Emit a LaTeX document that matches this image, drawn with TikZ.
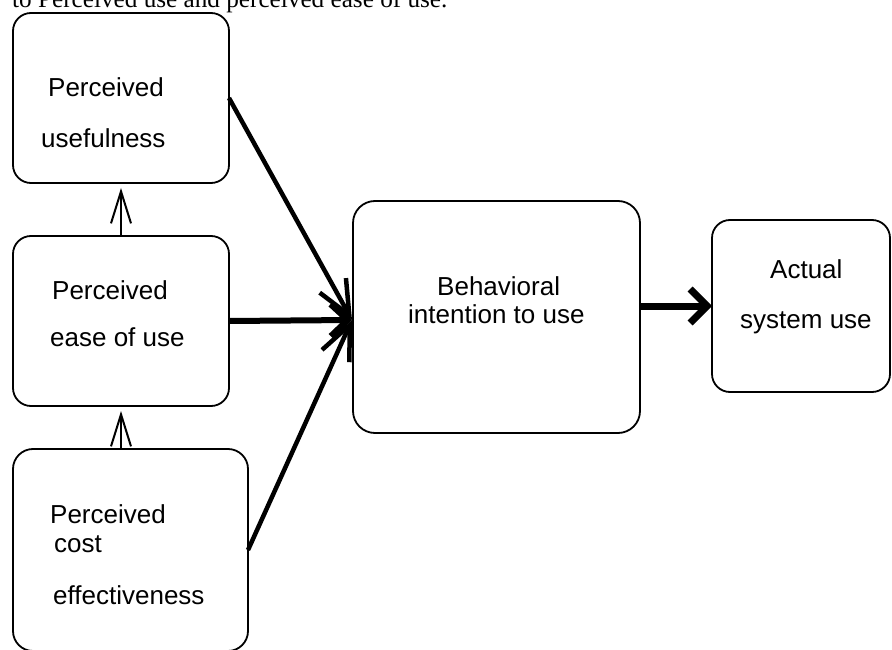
\documentclass[tikz,border=0pt]{standalone}
\usepackage{fontspec}
\setmainfont{Liberation Sans}
\newfontfamily\capfont{Liberation Serif}
\usetikzlibrary{arrows.meta,calc}
\begin{document}
\begin{tikzpicture}[x=1pt,y=-1pt,
  box/.style={draw, line width=1.8pt, rounded corners=18pt, inner sep=0pt, outer sep=0pt},
  lbl/.style={anchor=base west, inner sep=0pt, font=\fontsize{26pt}{30pt}\selectfont},
  thinarrow/.style={line width=2pt, line join=round, -{Straight Barb[length=32pt,width=20pt]}, shorten >=5pt},
  diag/.style={line width=4.5pt, line join=round, -{Straight Barb[length=34pt,width=30pt]}},
  hor/.style={line width=6pt, line join=round, -{Straight Barb[length=17pt,width=32pt]}},
  big/.style={line width=7pt, line join=round, -{Straight Barb[length=17pt,width=34pt]}}
]
\useasboundingbox (0,0) rectangle (892,650);
% caption line cut at top
\node[anchor=base west, inner sep=0pt, font=\capfont\fontsize{25.2pt}{30pt}\selectfont] (cap) at (12,7.5) {to Perceived use and perceived ease of use.};
% boxes
\node[box, minimum width=216pt, minimum height=170pt] (pu) at (121,98) {};
\node[box, minimum width=216pt, minimum height=170pt] (pe) at (121,321) {};
\node[box, minimum width=235pt, minimum height=202pt, rounded corners=20pt] (pc) at (130.5,550) {};
\node[box, minimum width=287pt, minimum height=232pt, rounded corners=22pt] (bi) at (496.5,317) {};
\node[box, minimum width=178pt, minimum height=172pt] (au) at (801,306) {};
% texts
\node[lbl] (pu1) at (48,97) {Perceived};
\node[lbl] (pu2) at (41,148) {usefulness};
\node[lbl] (pe1) at (52,299) {Perceived};
\node[lbl] (pe2) at (50,346) {ease of use};
\node[lbl] (pc1) at (50,523) {Perceived};
\node[lbl] (pc2) at (54,552) {cost};
\node[lbl] (pc3) at (53,604) {effectiveness};
\node[lbl] (bi1) at (437,295) {Behavioral};
\node[lbl] (bi2) at (408,323) {intention to use};
\node[lbl] (au1) at (770,278) {Actual};
\node[lbl] (au2) at (740,328) {system use};
% connectors
\coordinate (tip) at ($(bi.west)+(-1,3)$);
\draw[thinarrow] (pe.north) -- (pu.south);
\draw[thinarrow] (pe.south |- pc.north) -- (pe.south);
\draw[diag] (pu.east) -- (tip);
\draw[diag] (pc.east) -- (tip);
\draw[hor] (pe.east) -- (tip);
\draw[big] (bi.east |- au.west) -- (au.west);
\end{tikzpicture}
\end{document}
